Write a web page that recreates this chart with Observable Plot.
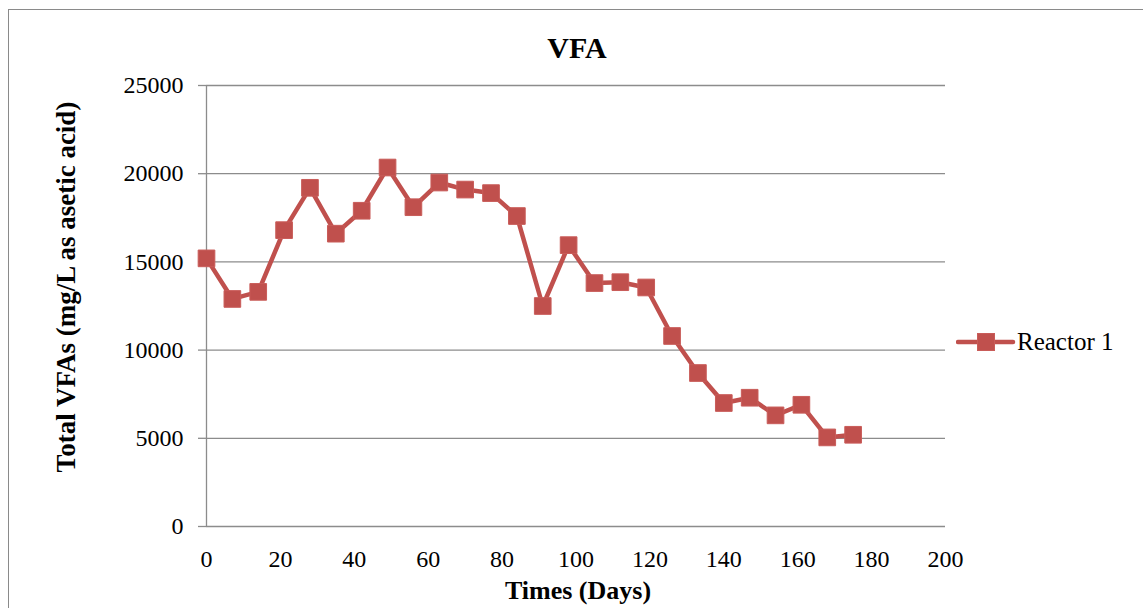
<!DOCTYPE html>
<html>
<head>
<meta charset="utf-8">
<script src="https://cdn.jsdelivr.net/npm/d3@7"></script>
<script src="https://cdn.jsdelivr.net/npm/@observablehq/plot@0.6"></script>
<style>
  html, body { margin: 0; padding: 0; background: white; overflow: hidden; }
  #wrap { position: relative; width: 1143px; height: 608px; font-family: "Liberation Serif", "Times New Roman", serif; }
  #frame { position: absolute; left: 8px; top: 9px; width: 1200px; height: 700px; border: 1.5px solid #8a8a8a; box-sizing: border-box; pointer-events: none; z-index: 3; }
  #chart { position: absolute; left: 0; top: 0; }
  #legend { position: absolute; left: 956px; top: 329px; height: 26px; z-index: 2; }
  #legend svg { position: absolute; left: 0; top: 3px; }
  #legend span { position: absolute; left: 61px; top: 0; font-size: 25px; line-height: 25px; white-space: nowrap; color: #000; }
</style>
</head>
<body>
<div id="wrap">
  <div id="chart"></div>
  <div id="legend">
    <svg width="60" height="20"><line x1="2" y1="10" x2="57" y2="10" stroke="#c0504d" stroke-width="4.5" stroke-linecap="round"/><rect x="21.5" y="1.5" width="17" height="17" fill="#c0504d" stroke="#c95c59" stroke-width="1"/></svg>
    <span>Reactor 1</span>
  </div>
  <div id="frame"></div>
</div>
<script>
const days = [0, 7, 14, 21, 28, 35, 42, 49, 56, 63, 70, 77, 84, 91, 98, 105, 112, 119, 126, 133, 140, 147, 154, 161, 168, 175];
const vfa = [15200, 12900, 13300, 16800, 19200, 16600, 17900, 20350, 18100, 19500, 19100, 18900, 17600, 12500, 15950, 13800, 13850, 13550, 10800, 8700, 7000, 7300, 6300, 6900, 5050, 5200];
const xTicks = [0, 20, 40, 60, 80, 100, 120, 140, 160, 180, 200];
const yTicks = [0, 5000, 10000, 15000, 20000, 25000];
const seriesName = "Reactor 1";
const titleText = "VFA";
const xLabel = "Times (Days)";
const yLabel = "Total VFAs (mg/L as asetic acid)";

const data = days.map((d, i) => ({day: d, value: vfa[i], series: seriesName}));
const red = "#c0504d";
const grid = "#8c8c8c";

const plot = Plot.plot({
  width: 1143,
  height: 608,
  marginLeft: 206,
  marginRight: 198,
  marginTop: 85,
  marginBottom: 82,
  style: {fontFamily: "Liberation Serif, Times New Roman, serif", background: "transparent", color: "black"},
  x: {domain: [0, 200]},
  y: {domain: [0, 25000]},
  marks: [
    Plot.gridY(yTicks, {stroke: grid, strokeOpacity: 1, strokeWidth: 1.3}),
    Plot.ruleX([0], {stroke: grid, strokeWidth: 1.3}),
    Plot.axisY(yTicks, {tickSize: 8, tickPadding: 15, stroke: grid, strokeWidth: 1.3, fill: "black", fontSize: 24, tickFormat: d3.format("d"), label: null}),
    Plot.axisX(xTicks, {tickSize: 0, tickPadding: 23, fill: "black", fontSize: 24, tickFormat: d3.format("d"), label: null}),
    Plot.line(data, {x: "day", y: "value", stroke: red, strokeWidth: 4.5, strokeLinejoin: "round"}),
    Plot.dot(data, {x: "day", y: "value", symbol: "square", r: 9.4, fill: red, stroke: "#c95c59", strokeWidth: 1}),
    Plot.text([titleText], {frameAnchor: "top", dy: -37, dx: 1, fontSize: 30, fontWeight: "bold", fill: "black", lineAnchor: "middle"}),
    Plot.text([xLabel], {frameAnchor: "bottom", dy: 64, dx: 2, fontSize: 26, fontWeight: "bold", fill: "black", lineAnchor: "middle"}),
    Plot.text([yLabel], {frameAnchor: "left", dx: -140, dy: -19, rotate: -90, textAnchor: "middle", fontSize: 27, fontWeight: "bold", fill: "black", lineAnchor: "middle"})
  ]
});
document.getElementById("chart").appendChild(plot);
</script>
</body>
</html>
